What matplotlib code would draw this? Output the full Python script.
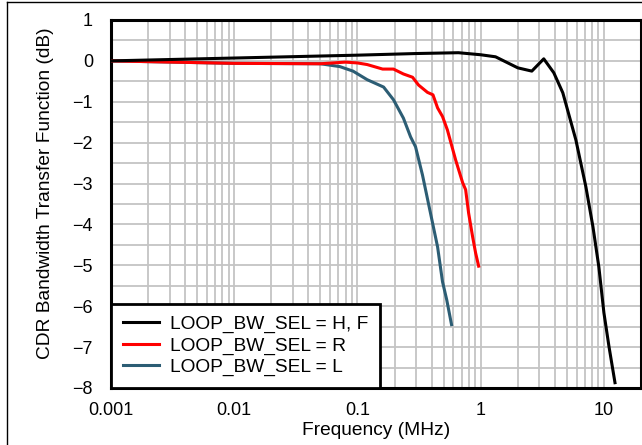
import matplotlib.pyplot as plt
import matplotlib.lines as mlines
from matplotlib.ticker import FixedLocator, NullFormatter

plt.rcParams['font.family'] = ['Liberation Sans', 'DejaVu Sans']

# LOOP_BW_SEL = H, F
f_hf = [0.001, 0.01, 0.1, 0.3, 0.66, 1.0, 1.32, 2.0, 2.6, 3.25, 3.92, 4.64,
        5.92, 7.14, 8.15, 9.1, 10.0, 11.0, 12.3]
db_hf = [0.0, 0.07, 0.14, 0.18, 0.2, 0.15, 0.1, -0.17, -0.25, 0.05, -0.29, -0.78,
         -1.93, -3.08, -4.06, -5.04, -6.16, -6.99, -7.87]

# LOOP_BW_SEL = R
f_r = [0.001, 0.01, 0.05, 0.08, 0.1, 0.12, 0.16, 0.196, 0.236, 0.28, 0.313, 0.37,
       0.41, 0.447, 0.49, 0.537, 0.626, 0.714, 0.755, 0.798, 0.86, 0.91, 0.963]
db_r = [0.0, -0.06, -0.07, -0.03, -0.05, -0.09, -0.2, -0.2, -0.32, -0.4, -0.59, -0.77,
        -0.83, -1.15, -1.36, -1.69, -2.42, -2.98, -3.15, -3.72, -4.3, -4.7, -5.02]

# LOOP_BW_SEL = L
f_l = [0.001, 0.01, 0.05, 0.072, 0.092, 0.12, 0.163, 0.196, 0.236, 0.27, 0.296,
       0.337, 0.39, 0.447, 0.49, 0.53, 0.58]
db_l = [0.0, -0.06, -0.07, -0.14, -0.25, -0.46, -0.64, -0.95, -1.4, -1.86, -2.1,
        -2.79, -3.7, -4.55, -5.4, -5.84, -6.45]

labels = ['LOOP_BW_SEL = H, F', 'LOOP_BW_SEL = R', 'LOOP_BW_SEL = L']
colors = ['black', '#ff0000', '#2c5d74']

fig = plt.figure(figsize=(6.42, 4.45), dpi=100)
ax = fig.add_axes([111/642, 1 - 388/445, 530/642, 368/445])

ax.plot(f_hf, db_hf, color=colors[0], lw=2.2, label=labels[0], zorder=5)
ax.plot(f_r, db_r, color=colors[1], lw=2.2, label=labels[1], zorder=4)
ax.plot(f_l, db_l, color=colors[2], lw=2.2, label=labels[2], zorder=3)

ax.set_xscale('log')
ax.set_xlim(0.001, 20)
ax.set_ylim(-8, 1)
ax.set_xticks([0.001, 0.01, 0.1, 1, 10])
ax.set_xticklabels(['0.001', '0.01', '0.1', '1', '10'])
ax.xaxis.set_minor_formatter(NullFormatter())
ax.set_yticks(range(-8, 2))
ax.yaxis.set_minor_locator(FixedLocator([v + 0.5 for v in range(-8, 1)]))
ax.tick_params(which='both', length=0, labelsize=13)
ax.tick_params(axis='y', pad=13)
ax.tick_params(axis='x', pad=10)
ax.grid(which='both', color='#c4c4c4', lw=1.3)
ax.set_axisbelow(True)
for s in ax.spines.values():
    s.set_linewidth(2.2)

ax.set_xlabel('Frequency (MHz)', fontsize=13.8, labelpad=2)
ax.set_ylabel('CDR Bandwidth Transfer Function (dB)', fontsize=13.8, labelpad=10)
ax.yaxis.set_label_coords(-0.108, 0.53)

leg = ax.legend(loc='lower left', borderaxespad=0, fontsize=13.8, fancybox=False,
                handlelength=1.9, handletextpad=0.55, labelspacing=0.2,
                borderpad=0.62, framealpha=1)
leg.get_frame().set_edgecolor('black')
leg.get_frame().set_linewidth(2)
leg.set_zorder(10)

# outer figure border
fig.add_artist(mlines.Line2D([7/642, 7/642], [0, 1 - 2/445], color='black', lw=1))
fig.add_artist(mlines.Line2D([7/642, 1], [1 - 2/445, 1 - 2/445], color='black', lw=1))

fig.savefig('out.png', dpi=100)
